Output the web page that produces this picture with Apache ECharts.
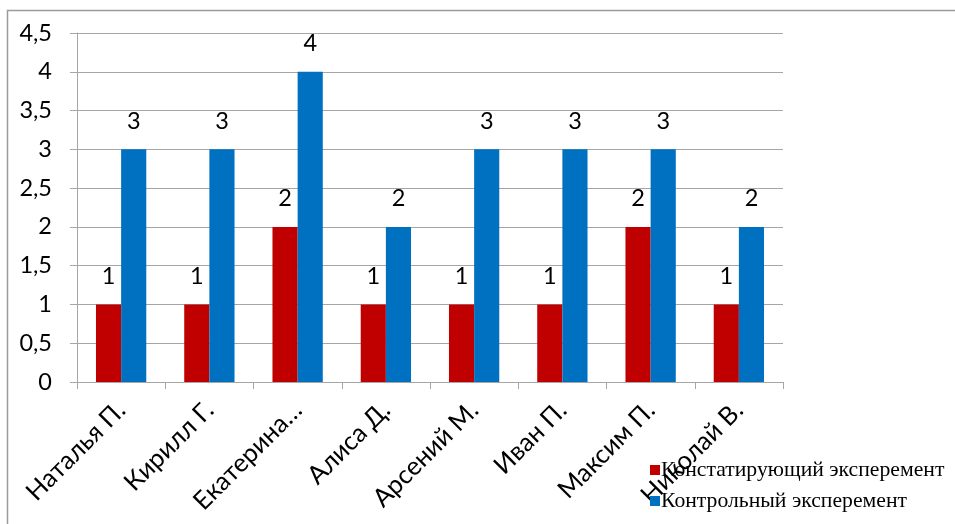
<!DOCTYPE html>
<html>
<head>
<meta charset="utf-8">
<script src="https://cdn.jsdelivr.net/npm/echarts@6/dist/echarts.min.js"></script>
<style>
  html, body { margin: 0; padding: 0; background: #fff; }
  #chart { width: 955px; height: 524px; }
</style>
</head>
<body>
<div id="chart"></div>
<script>
// Students and their scores in the two experiments
const students = ['Наталья П.', 'Кирилл Г.', 'Екатерина…', 'Алиса Д.', 'Арсений М.', 'Иван П.', 'Максим П.', 'Николай В.'];
const seriesNames = ['Констатирующий эксперемент', 'Контрольный эксперемент'];
const statingScores = [1, 1, 2, 1, 1, 1, 2, 1];
const controlScores = [3, 3, 4, 2, 3, 3, 3, 2];

const axisFont = 'Lato, "Open Sans", sans-serif';
const gridColor = '#a6a6a6';

const chart = echarts.init(document.getElementById('chart'), null, { renderer: 'canvas' });

const labelStyle = {
  show: true,
  position: 'top',
  distance: 16,
  fontFamily: axisFont,
  fontSize: 23.5,
  color: '#000'
};

chart.setOption({
  animation: false,
  backgroundColor: '#fff',
  graphic: [{
    type: 'rect',
    shape: { x: 7.5, y: 10.5, width: 1000, height: 600 },
    style: { fill: 'none', stroke: '#9a9a9a', lineWidth: 1.5 },
    silent: true,
    z: -1
  }],
  grid: { left: 77, right: 172, top: 33, bottom: 142, containLabel: false },
  legend: {
    orient: 'vertical',
    left: 645,
    top: 454,
    itemWidth: 10,
    itemHeight: 10,
    itemGap: 9,
    icon: 'rect',
    textStyle: {
      fontFamily: '"Liberation Serif", "DejaVu Serif", serif',
      fontSize: 21.7,
      color: '#000',
      padding: [0, 0, 0, -4]
    },
    data: seriesNames
  },
  xAxis: {
    type: 'category',
    data: students,
    axisLine: { lineStyle: { color: gridColor, width: 1 } },
    axisTick: { show: true, length: 7, lineStyle: { color: gridColor } },
    axisLabel: {
      rotate: 45,
      interval: 0,
      margin: 24,
      fontFamily: axisFont,
      fontSize: 25.5,
      color: '#000'
    }
  },
  yAxis: {
    type: 'value',
    min: 0,
    max: 4.5,
    interval: 0.5,
    axisLine: { show: true, lineStyle: { color: gridColor, width: 1 } },
    axisTick: { show: true, length: 7, lineStyle: { color: gridColor } },
    splitLine: { lineStyle: { color: gridColor, width: 1 } },
    axisLabel: {
      margin: 25,
      fontFamily: axisFont,
      fontSize: 23.5,
      color: '#000',
      formatter: v => String(v).replace('.', ',')
    }
  },
  series: [
    {
      name: seriesNames[0],
      type: 'bar',
      data: statingScores,
      barGap: '0%',
      barCategoryGap: '43%',
      itemStyle: { color: '#C00000' },
      label: labelStyle
    },
    {
      name: seriesNames[1],
      type: 'bar',
      data: controlScores,
      barGap: '0%',
      barCategoryGap: '43%',
      itemStyle: { color: '#0070C0' },
      label: labelStyle
    }
  ]
});
</script>
</body>
</html>
